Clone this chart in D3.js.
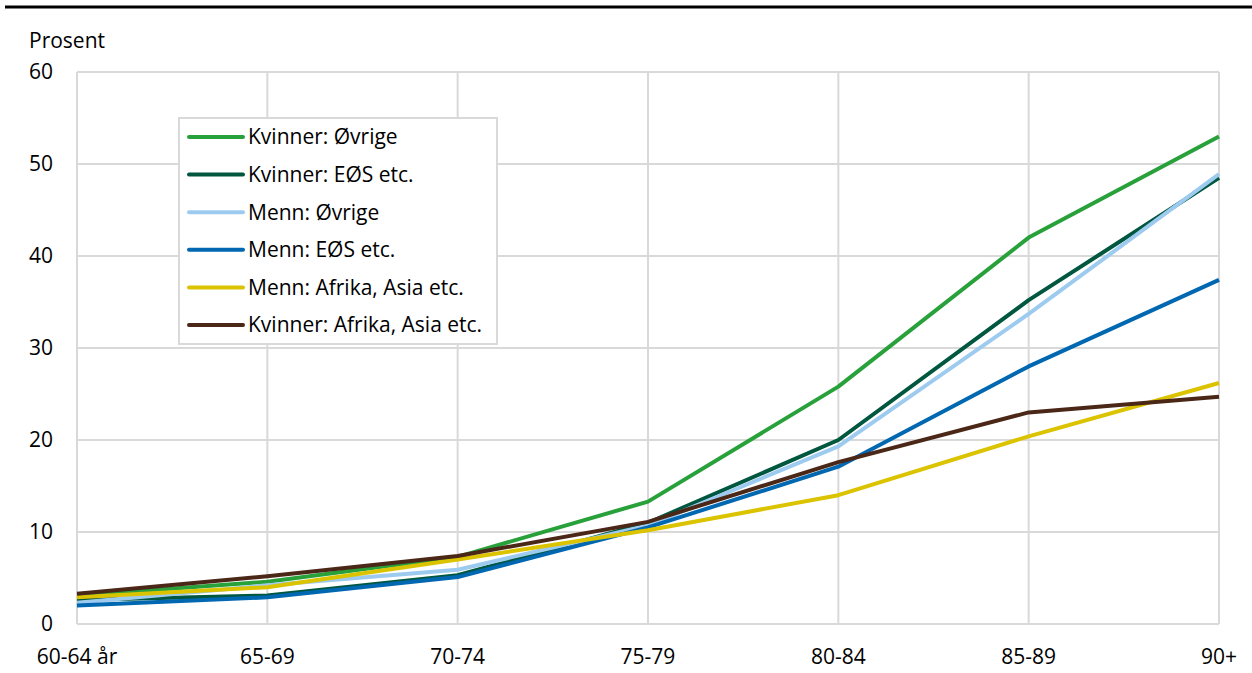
<!DOCTYPE html>
<html><head><meta charset="utf-8">
<script src="https://cdn.jsdelivr.net/npm/d3@7"></script>
<style>body{margin:0;background:#fff}svg{display:block;font-family:"Open Sans",sans-serif}</style>
</head><body><svg id="c" width="1252" height="673"></svg>
<script>
const categories = ["60-64 år","65-69","70-74","75-79","80-84","85-89","90+"];
const yTicks = [0,10,20,30,40,50,60];
const seriesNames = ["Kvinner: Øvrige","Kvinner: EØS etc.","Menn: Øvrige","Menn: EØS etc.","Menn: Afrika, Asia etc.","Kvinner: Afrika, Asia etc."];
const seriesColors = ["#28a13b","#00573f","#9dcbef","#0067b1","#dcc300","#4a2717"];
const kvinnerOvrige = [3.1, 4.6, 7.3, 13.3, 25.8, 42.0, 53.0];
const kvinnerEOS = [2.6, 3.1, 5.3, 11.0, 20.0, 35.2, 48.5];
const mennOvrige = [2.3, 4.2, 5.9, 10.7, 19.3, 33.7, 48.9];
const mennEOS = [2.0, 2.9, 5.1, 10.5, 17.1, 28.0, 37.4];
const mennAfrika = [2.9, 4.0, 7.0, 10.2, 14.0, 20.4, 26.2];
const kvinnerAfrika = [3.3, 5.2, 7.4, 11.1, 17.6, 23.0, 24.7];
const seriesValues = [kvinnerOvrige, kvinnerEOS, mennOvrige, mennEOS, mennAfrika, kvinnerAfrika];

const FS = 21;
const svg = d3.select("#c");
const x = d3.scalePoint().domain(categories).range([77, 1219]);
const y = d3.scaleLinear().domain([0, 60]).range([624, 72]);

// top rule
svg.append("line").attr("x1",5).attr("x2",1252).attr("y1",7).attr("y2",7).attr("stroke","#000").attr("stroke-width",3);

// grid
const g = svg.append("g");
g.selectAll(".h").data(yTicks).join("line").attr("x1",77).attr("x2",1219)
 .attr("y1",d=>y(d)).attr("y2",d=>y(d)).attr("stroke","#d9d9d9").attr("stroke-width",2);
g.selectAll(".v").data(categories).join("line").attr("x1",d=>x(d)).attr("x2",d=>x(d))
 .attr("y1",y(60)).attr("y2",y(0)).attr("stroke","#d9d9d9").attr("stroke-width",2);

// y tick labels
svg.selectAll(".yl").data(yTicks).join("text").attr("x",53).attr("y",d=>y(d)).attr("dy","0.35em")
 .attr("text-anchor","end").attr("font-size",FS).attr("fill","#000").text(d=>d);
svg.append("text").attr("x",29).attr("y",48).attr("font-size",FS).attr("fill","#000").text("Prosent");

// x labels
svg.selectAll(".xl").data(categories).join("text").attr("x",d=>x(d)).attr("y",664)
 .attr("text-anchor","middle").attr("font-size",FS).attr("fill","#000").text(d=>d);

// lines
const line = d3.line().x((d,i)=>x(categories[i])).y(d=>y(d));
svg.selectAll(".ln").data(seriesValues).join("path").attr("d",line).attr("fill","none")
 .attr("stroke",(d,i)=>seriesColors[i]).attr("stroke-width",4).attr("stroke-linejoin","round");

// legend
const lg = svg.append("g");
lg.append("rect").attr("x",179).attr("y",118).attr("width",318).attr("height",226)
 .attr("fill","#fff").attr("stroke","#d9d9d9").attr("stroke-width",2);
const rows = lg.selectAll(".r").data(seriesNames).join("g")
 .attr("transform",(d,i)=>`translate(0,${137 + i*37.6})`);
rows.append("line").attr("x1",189).attr("x2",243).attr("y1",0).attr("y2",0)
 .attr("stroke",(d,i)=>seriesColors[i]).attr("stroke-width",4).attr("stroke-linecap","round");
rows.append("text").attr("x",248).attr("y",0).attr("dy","0.35em").attr("font-size",FS).attr("fill","#000").text(d=>d);
</script></body></html>
